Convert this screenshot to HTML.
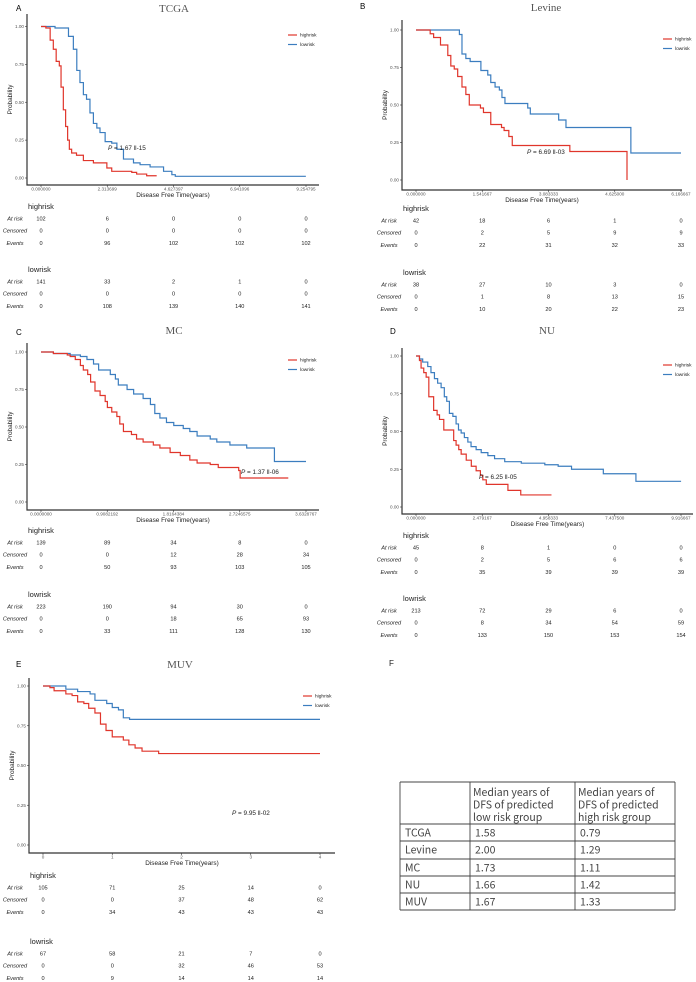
<!DOCTYPE html>
<html><head><meta charset="utf-8"><style>
html,body{margin:0;padding:0;background:#fff;}
svg{display:block;font-family:"Liberation Sans",sans-serif;}
.tt{font-family:"Liberation Serif",serif;font-size:11px;fill:#555;}
.tk{font-size:4.6px;fill:#555;}
.rt{font-size:5.6px;fill:#222;}
.rl{font-size:5.6px;fill:#222;font-style:italic;}
.gh{font-size:7.5px;fill:#222;}
.tb{font-family:"Noto Sans CJK SC","Liberation Sans",sans-serif;font-size:10.5px;fill:#444;}
</style></head><body>
<svg id="fig" width="696" height="982" viewBox="0 0 696 982"></svg>
<script>
// ---- data ----
const tcgaHighT=[0,0.17,0.32,0.43,0.53,0.64,0.70,0.78,0.86,0.93,0.99,1.07,1.24,1.48,1.83,2.30,2.47,3.17,3.34,3.69,4.04];
const tcgaHighS=[1,0.99,0.91,0.85,0.77,0.74,0.60,0.45,0.34,0.25,0.19,0.165,0.15,0.115,0.10,0.066,0.044,0.037,0.026,0.015,0.015];
const tcgaLowT=[0,0.49,0.96,1.13,1.25,1.36,1.48,1.59,1.71,1.83,1.95,2.06,2.24,2.47,2.65,2.88,3.23,3.46,3.81,4.28,4.57,4.69,9.25];
const tcgaLowS=[1,0.99,0.935,0.85,0.71,0.63,0.55,0.52,0.43,0.36,0.33,0.30,0.24,0.23,0.19,0.125,0.10,0.088,0.073,0.044,0.022,0.011,0.011];
const levHighT=[0,0.33,0.41,0.57,0.74,0.81,0.89,0.97,1.07,1.16,1.24,1.50,1.57,1.74,1.99,2.05,2.16,2.24,3.58,4.91];
const levHighS=[1,0.975,0.95,0.90,0.83,0.76,0.74,0.69,0.62,0.57,0.50,0.48,0.45,0.37,0.35,0.33,0.29,0.23,0.19,0];
const levLowT=[0,1.01,1.07,1.16,1.26,1.51,1.67,1.74,1.84,1.94,2.00,2.07,2.60,2.66,3.32,3.49,5.00,6.1667];
const levLowS=[1,0.97,0.84,0.81,0.79,0.73,0.70,0.65,0.62,0.60,0.55,0.51,0.48,0.44,0.40,0.35,0.18,0.18];
const mcHighT=[0,0.17,0.36,0.40,0.47,0.54,0.58,0.64,0.68,0.74,0.81,0.88,0.91,0.97,1.04,1.08,1.13,1.24,1.31,1.40,1.54,1.63,1.77,1.91,2.04,2.14,2.32,2.43,2.71,2.73,3.39];
const mcHighS=[1,0.99,0.98,0.97,0.95,0.91,0.88,0.85,0.80,0.74,0.71,0.67,0.63,0.60,0.57,0.52,0.47,0.45,0.42,0.40,0.38,0.36,0.33,0.31,0.28,0.26,0.25,0.23,0.21,0.16,0.16];
const mcLowT=[0,0.17,0.40,0.54,0.63,0.72,0.79,0.95,1.02,1.06,1.18,1.27,1.40,1.50,1.56,1.63,1.72,1.82,1.95,2.04,2.14,2.32,2.41,2.59,2.82,3.20,3.633];
const mcLowS=[1,0.99,0.98,0.97,0.95,0.92,0.88,0.85,0.82,0.78,0.75,0.72,0.69,0.65,0.59,0.56,0.53,0.51,0.49,0.47,0.44,0.42,0.40,0.38,0.36,0.27,0.27];
const nuHighT=[0,0.13,0.19,0.29,0.38,0.48,0.66,0.79,0.88,1.04,1.41,1.50,1.60,1.69,1.88,2.07,2.25,2.41,2.50,2.63,3.44,3.92,5.07];
const nuHighS=[1,0.97,0.92,0.89,0.86,0.73,0.64,0.61,0.58,0.51,0.44,0.41,0.38,0.35,0.31,0.27,0.24,0.21,0.18,0.15,0.11,0.08,0.08];
const nuLowT=[0,0.13,0.25,0.44,0.56,0.69,0.81,0.94,1.06,1.15,1.25,1.38,1.50,1.59,1.69,1.81,1.94,2.06,2.25,2.44,2.69,2.94,3.32,3.94,4.82,5.32,5.82,7.01,8.23,9.92];
const nuLowS=[1,0.98,0.96,0.93,0.89,0.85,0.82,0.79,0.73,0.70,0.62,0.60,0.55,0.51,0.49,0.46,0.43,0.40,0.38,0.36,0.34,0.32,0.30,0.29,0.28,0.27,0.25,0.22,0.17,0.17];
const muvHighT=[0,0.10,0.16,0.33,0.42,0.50,0.59,0.66,0.75,0.83,0.91,1.00,1.16,1.24,1.33,1.43,1.67,4];
const muvHighS=[1,0.99,0.97,0.95,0.94,0.90,0.89,0.86,0.83,0.76,0.72,0.68,0.66,0.63,0.61,0.59,0.575,0.575];
const muvLowT=[0,0.33,0.50,0.68,0.75,0.92,1.00,1.09,1.16,1.25,4];
const muvLowS=[1,0.98,0.965,0.95,0.91,0.89,0.865,0.85,0.80,0.79,0.79];
const tcgaTicks=["0.000000","2.313699","4.627397","6.941096","9.254795"];
const levTicks=["0.000000","1.541667","3.083333","4.625000","6.166667"];
const mcTicks=["0.0000000","0.9082192","1.8164384","2.7246575","3.6328767"];
const nuTicks=["0.000000","2.479167","4.958333","7.437500","9.916667"];
const muvTicks=["0","1","2","3","4"];
const tcgaRisk=[[102,6,0,0,0],[0,0,0,0,0],[0,96,102,102,102],[141,33,2,1,0],[0,0,0,0,0],[0,108,139,140,141]];
const levRisk=[[42,18,6,1,0],[0,2,5,9,9],[0,22,31,32,33],[38,27,10,3,0],[0,1,8,13,15],[0,10,20,22,23]];
const mcRisk=[[139,89,34,8,0],[0,0,12,28,34],[0,50,93,103,105],[223,190,94,30,0],[0,0,18,65,93],[0,33,111,128,130]];
const nuRisk=[[45,8,1,0,0],[0,2,5,6,6],[0,35,39,39,39],[213,72,29,6,0],[0,8,34,54,59],[0,133,150,153,154]];
const muvRisk=[[105,71,25,14,0],[0,0,37,48,62],[0,34,43,43,43],[67,58,21,7,0],[0,0,32,46,53],[0,9,14,14,14]];
const tableRows=[["TCGA","1.58","0.79"],["Levine","2.00","1.29"],["MC","1.73","1.11"],["NU","1.66","1.42"],["MUV","1.67","1.33"]];

const NS="http://www.w3.org/2000/svg";
const svg=document.getElementById('fig');
function mk(tag,attrs,parent,txt){const e=document.createElementNS(NS,tag);for(const k in attrs)e.setAttribute(k,attrs[k]);if(txt!==undefined)e.textContent=txt;(parent||svg).appendChild(e);return e;}
const RED="#e0352b",BLUE="#3b7dbf";

function panel(c){
  const g=mk('g',{});
  
  
  const X=t=>c.x0+(t/c.tmax)*(c.x1-c.x0);
  const Y=s=>c.y0-(s)*(c.y0-c.y1);
  let e=mk('text',{x:c.lx,y:c.ly,'font-size':'8'},g,c.letter);
  
  e=mk('text',{x:c.tx,y:c.ty,class:'tt','text-anchor':'middle'},g,c.title);
  
  e=mk('path',{d:`M${c.ax} ${c.top}V${c.axY}H${c.right}`,stroke:'#333',fill:'none','stroke-width':'1.2'},g);
  
  [0,0.25,0.5,0.75,1].forEach(v=>{
    mk('line',{x1:c.ax-2,x2:c.ax,y1:Y(v),y2:Y(v),stroke:'#333','stroke-width':'0.6'},g);
    const t=mk('text',{x:c.ax-3,y:Y(v)+1.6,class:'tk','text-anchor':'end'},g,v.toFixed(2));
    
  });
  c.ticks.forEach((lab,i)=>{
    const tv=c.tmax*i/4;
    mk('line',{x1:X(tv),x2:X(tv),y1:c.axY,y2:c.axY+2,stroke:'#333','stroke-width':'0.6'},g);
    const t=mk('text',{x:X(tv),y:c.axY+5.5,class:'tk','text-anchor':'middle'},g,lab);
    
  });
  e=mk('text',{x:(c.ax+c.right)/2,y:c.axY+12,'font-size':'6.4','text-anchor':'middle',fill:'#222'},g,'Disease Free Time(years)');
  
  const my=(c.top+c.axY)/2;
  e=mk('text',{x:c.ax-15,y:my,'font-size':'6.4','text-anchor':'middle',fill:'#222',transform:`rotate(-90 ${c.ax-15} ${my})`},g,'Probability');
  
  function step(T,S,col,name){
    let d=`M${X(T[0])} ${Y(S[0])}`;
    for(let i=1;i<T.length;i++){d+=`H${X(T[i])}V${Y(S[i])}`;}
    const p=mk('path',{d:d,stroke:col,fill:'none','stroke-width':'1.2'},g);
    
    
  }
  step(c.lowT,c.lowS,BLUE,'lowrisk-curve');
  step(c.highT,c.highS,RED,'highrisk-curve');
  [[RED,'highrisk'],[BLUE,'lowrisk']].forEach((l,i)=>{
    const y=c.legY+i*9.5;
    mk('line',{x1:c.legX,x2:c.legX+9,y1:y,y2:y,stroke:l[0],'stroke-width':'1.2'},g);
    const t=mk('text',{x:c.legX+12,y:y+1.6,'font-size':'4.8',fill:'#222'},g,l[1]);
    
  });
  e=mk('text',{x:c.px,y:c.py,'font-size':'6.4',fill:'#222'},g);
  
  mk('tspan',{'font-style':'italic'},e,'P');
  mk('tspan',{},e,' = '+c.pval);
  const labs=['At risk','Censored','Events'];
  [['highrisk',c.hy,0],['lowrisk',c.ly2,3]].forEach(gr=>{
    const h=mk('text',{x:c.ax+1,y:gr[1],class:'gh'},g,gr[0]);
    
    for(let r=0;r<3;r++){
      const y=gr[1]+11.5+r*12.2;
      const rl=mk('text',{x:c.rlx,y:y,class:'rl','text-anchor':'middle'},g,labs[r]);
      
      c.risk[gr[2]+r].forEach((v,i)=>{
        const t=mk('text',{x:X(c.tmax*i/4),y:y,class:'rt','text-anchor':'middle'},g,String(v));
        
      });
    }
  });
}
panel({key:'tcga',letter:'A',lx:16,ly:11,title:'TCGA',tx:174,ty:12,ax:27,top:14,axY:185,right:319,x0:41,x1:306,y0:178,y1:26.5,tmax:9.254795,ticks:tcgaTicks,highT:tcgaHighT,highS:tcgaHighS,lowT:tcgaLowT,lowS:tcgaLowS,legX:288,legY:35,px:108,py:150,pval:'1.67 ll-15',hy:209,ly2:272,rlx:15,risk:tcgaRisk});
panel({key:'levine',letter:'B',lx:360,ly:9,title:'Levine',tx:546,ty:11,ax:402,top:20,axY:190,right:682,x0:416,x1:681,y0:180,y1:30,tmax:6.166667,ticks:levTicks,highT:levHighT,highS:levHighS,lowT:levLowT,lowS:levLowS,legX:663,legY:39,px:527,py:154,pval:'6.69 ll-03',hy:211,ly2:275,rlx:389,risk:levRisk});
panel({key:'mc',letter:'C',lx:16,ly:335,title:'MC',tx:174,ty:334,ax:27,top:343,axY:510,right:319,x0:41,x1:306,y0:502,y1:352,tmax:3.6328767,ticks:mcTicks,highT:mcHighT,highS:mcHighS,lowT:mcLowT,lowS:mcLowS,legX:288,legY:360,px:241,py:474,pval:'1.37 ll-06',hy:533,ly2:597,rlx:15,risk:mcRisk});
panel({key:'nu',letter:'D',lx:390,ly:334,title:'NU',tx:547,ty:334,ax:402,top:348,axY:514,right:693,x0:416,x1:681,y0:507,y1:356,tmax:9.916667,ticks:nuTicks,highT:nuHighT,highS:nuHighS,lowT:nuLowT,lowS:nuLowS,legX:663,legY:365,px:479,py:479,pval:'6.25 ll-05',hy:538,ly2:601,rlx:389,risk:nuRisk});
panel({key:'muv',letter:'E',lx:16,ly:667,title:'MUV',tx:180,ty:668,ax:29,top:678,axY:853,right:335,x0:43,x1:320,y0:845,y1:686,tmax:4,ticks:muvTicks,highT:muvHighT,highS:muvHighS,lowT:muvLowT,lowS:muvLowS,legX:303,legY:696,px:232,py:815,pval:'9.95 ll-02',hy:878,ly2:944,rlx:15,risk:muvRisk});

let e=mk('text',{x:389,y:666,'font-size':'8',fill:'#222'},svg,'F');

const tg=mk('g',{});


const cx=[400,470,575,675], ry=[782,824,841,859,876,893,910];
ry.forEach(y=>mk('line',{x1:cx[0],x2:cx[3],y1:y,y2:y,stroke:'#444','stroke-width':'0.9'},tg));
cx.forEach(x=>mk('line',{x1:x,x2:x,y1:ry[0],y2:ry[6],stroke:'#444','stroke-width':'0.9'},tg));
['Median years of','DFS of predicted','low risk group'].forEach((s,i)=>mk('text',{x:473,y:796+i*12.5,class:'tb'},tg,s));
['Median years of','DFS of predicted','high risk group'].forEach((s,i)=>mk('text',{x:578,y:796+i*12.5,class:'tb'},tg,s));
tableRows.forEach((r,i)=>{
  r.forEach((v,j)=>{
    const t=mk('text',{x:cx[j]+5,y:ry[i+1]+12.5,class:'tb'},tg,v);
    
    
  });
});
</script>
</body></html>
